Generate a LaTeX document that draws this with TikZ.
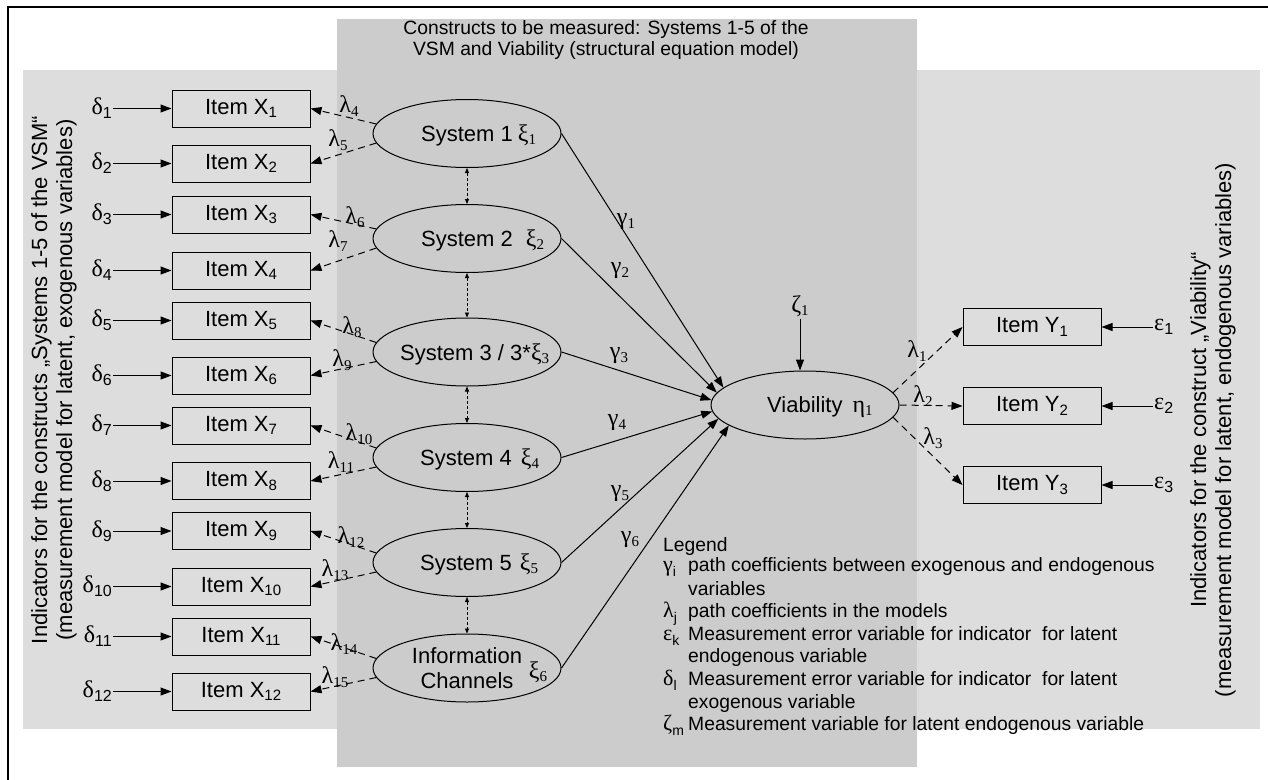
\documentclass[tikz,border=0pt]{standalone}
\usepackage{fontspec}
\setmainfont{Liberation Sans}
\newfontfamily\grk{Liberation Serif}
\usetikzlibrary{arrows.meta,shapes.geometric}
\definecolor{lightg}{RGB}{221,221,221}
\definecolor{darkg}{RGB}{204,204,204}
\newcommand\isub[1]{\raisebox{-0.28ex}{\fontsize{15}{15}\selectfont #1}}
\newcommand\gsub[1]{\raisebox{-0.3ex}{\fontsize{15}{15}\selectfont #1}}
\newcommand\esub[1]{\raisebox{-0.3ex}{\fontsize{16}{16}\selectfont #1}}
\newcommand\lsub[1]{\raisebox{-0.45ex}{\fontsize{14}{14}\selectfont #1}}
\tikzset{
  item/.style={draw, line width=1pt, fill=lightg, minimum width=138pt, minimum height=37pt, inner sep=0pt, font=\fontsize{22}{24}\selectfont},
  lat/.style={draw, ellipse, line width=1pt, fill=darkg, minimum width=188pt, minimum height=68pt, inner sep=0pt},
  lbl/.style={inner sep=0pt, font=\fontsize{22}{25}\selectfont},
  glbl/.style={inner sep=1pt, font=\grk\fontsize{24}{24}\selectfont},
  err/.style={inner sep=1pt, font=\fontsize{24}{24}\selectfont},
  arr/.style={line width=1pt, -{Triangle[length=11pt,width=8pt]}},
  darr/.style={arr, dash pattern=on 7pt off 5pt},
  dbl/.style={line width=0.8pt, dash pattern=on 3pt off 2pt, {Triangle[length=5pt,width=4pt]}-{Triangle[length=5pt,width=4pt]}},
  ttl/.style={align=center, font=\fontsize{19.3}{21}\selectfont},
  side/.style={align=center, font=\fontsize{22}{25}\selectfont},
  leg/.style={anchor=base west, inner sep=0pt, font=\fontsize{19.3}{21}\selectfont},
  legsym/.style={anchor=base west, inner sep=0pt, font=\fontsize{22}{22}\selectfont},
}
\begin{document}
\begin{tikzpicture}[x=1pt,y=-1pt]
\useasboundingbox (0,0) rectangle (1268,779);
% background regions
\fill[lightg] (23,70) rectangle (1260,729);
\fill[darkg] (337,19) rectangle (917,767);
\draw[line width=1.5pt] (8,800) -- (8,7) -- (1290,7);

% title and side texts
\node[ttl] (title) at (606,40.5) {Constructs to be measured: Systems 1-5 of the\\VSM and Viability (structural equation model)};
\node[side, rotate=90] (lefttext) at (54,380) {Indicators for the constructs „Systems 1-5 of the VSM“\\(measurement model for latent, exogenous variables)};
\node[side, rotate=90] (righttext) at (1213,430) {Indicators for the construct „Viability“\\(measurement model for latent, endogenous variables)};

% X items with errors
\foreach \i/\y in {1/108.5,2/163.5,3/214.5,4/270.5,5/320.5,6/375.5,7/425.5,8/481,9/531,10/586.5,11/636.5,12/691.5}{
  \node[item] (x\i) at (241,\y) {Item X\isub{\i}};
  \node[err, anchor=east] (d\i) at (113,\y) {{\grk δ}\esub{\i}};
  \draw[arr] (d\i.east |- x\i.west) -- (x\i.west);
}

% latent exogenous ellipses
\foreach \k/\y in {1/133.5,2/238.5,3/352,4/457.5,5/562.5,6/668}{
  \node[lat] (s\k) at (467,\y) {};
}
\node[lbl, anchor=base west] (s1t) at (421,141.5) {System 1\hspace{5pt}{\grk\fontsize{24}{24}\selectfont ξ\gsub{1}}};
\node[lbl, anchor=base west] (s2t) at (421,246.5) {System 2\hspace{13pt}{\grk\fontsize{24}{24}\selectfont ξ\gsub{2}}};
\node[lbl, anchor=base west] (s3t) at (400,360) {System 3 / 3*{\grk\fontsize{24}{24}\selectfont ξ\gsub{3}}};
\node[lbl, anchor=base west] (s4t) at (420,465.5) {System 4\hspace{9pt}{\grk\fontsize{24}{24}\selectfont ξ\gsub{4}}};
\node[lbl, anchor=base west] (s5t) at (420,570.5) {System 5\hspace{8pt}{\grk\fontsize{24}{24}\selectfont ξ\gsub{5}}};
\node[lbl, align=center] (s6t) at (467,668) {Information\\Channels};
\node[glbl] (s6x) at (538,672) {ξ\gsub{6}};

% correlations between constructs
\draw[dbl] (s1.south) -- (s2.north);
\draw[dbl] (s2.south) -- (s3.north);
\draw[dbl] (s3.south) -- (s4.north);
\draw[dbl] (s4.south) -- (s5.north);
\draw[dbl] (s5.south) -- (s6.north);

% loadings lambda 4..15
\foreach \k/\a/\b in {1/1/2,2/3/4,3/5/6,4/7/8,5/9/10,6/11/12}{
  \draw[darr] (s\k.174) -- (x\a.east);
  \draw[darr] (s\k.186) -- (x\b.east);
}
\node[glbl] (l4) at (349,106) {λ\gsub{4}};
\node[glbl] (l5) at (338,140) {λ\gsub{5}};
\node[glbl] (l6) at (355,217) {λ\gsub{6}};
\node[glbl] (l7) at (338,241) {λ\gsub{7}};
\node[glbl] (l8) at (352,327) {λ\gsub{8}};
\node[glbl] (l9) at (342,360) {λ\gsub{9}};
\node[glbl] (l10) at (359,434) {λ\gsub{10}};
\node[glbl] (l11) at (341,462) {λ\gsub{11}};
\node[glbl] (l12) at (351,537) {λ\gsub{12}};
\node[glbl] (l13) at (335,570) {λ\gsub{13}};
\node[glbl] (l14) at (344,644) {λ\gsub{14}};
\node[glbl] (l15) at (335,677) {λ\gsub{15}};

% endogenous construct
\node[lat] (via) at (805,405) {};
\node[lbl, anchor=base west] (viat) at (767,412) {Viability\hspace{10pt}{\grk\fontsize{24}{24}\selectfont η\gsub{1}}};
\node[glbl, inner sep=2pt] (z1) at (800,306) {ζ\gsub{1}};
\draw[arr] (z1.south) -- (z1.south |- via.north);

% structural paths
\draw[arr] (s1.east) -- (via.168);
\draw[arr] (s2.east) -- (via.172);
\draw[arr] (s3.east) -- (via.177);
\draw[arr] (s4.east) -- (via.184);
\draw[arr] (s5.east) -- (via.189);
\draw[arr] (s6.east) -- (via.195);
\node[glbl] (g1) at (626,222) {γ\gsub{1}};
\node[glbl] (g2) at (620,271) {γ\gsub{2}};
\node[glbl] (g3) at (619,356) {γ\gsub{3}};
\node[glbl] (g4) at (617,423) {γ\gsub{4}};
\node[glbl] (g5) at (620,494) {γ\gsub{5}};
\node[glbl] (g6) at (630,540) {γ\gsub{6}};

% Y items
\foreach \i/\y in {1/327,2/406,3/485}{
  \node[item] (y\i) at (1032,\y) {Item Y\isub{\i}};
  \node[err, anchor=west] (e\i) at (1153,\y) {{\grk ε}\esub{\i}};
  \draw[arr] (e\i.west |- y\i.east) -- (y\i.east);
}
\draw[darr] (via.8) -- (y1.west);
\draw[darr] (via.east) -- (y2.west);
\draw[darr] (via.-8) -- (y3.west);
\node[glbl] (l1) at (917,351) {λ\gsub{1}};
\node[glbl] (l2) at (923,396) {λ\gsub{2}};
\node[glbl] (l3) at (933,438) {λ\gsub{3}};

% legend
\node[leg] (legt) at (663,551) {Legend};
\node[legsym] (lg1) at (663,571) {{\grk γ}\lsub{i}};
\node[leg] (lt1) at (688,571) {path coefficients between exogenous and endogenous};
\node[leg] (lt1b) at (688,595) {variables};
\node[legsym] (lg2) at (663,617) {{\grk λ}\lsub{j}};
\node[leg] (lt2) at (688,617) {path coefficients in the models};
\node[legsym] (lg3) at (663,640) {{\grk ε}\lsub{k}};
\node[leg] (lt3) at (688,640) {Measurement error variable for indicator\ \ for latent};
\node[leg] (lt3b) at (688,662) {endogenous variable};
\node[legsym] (lg4) at (663,685) {{\grk δ}\lsub{l}};
\node[leg] (lt4) at (688,685) {Measurement error variable for indicator\ \ for latent};
\node[leg] (lt4b) at (688,708) {exogenous variable};
\node[legsym] (lg5) at (663,730) {{\grk ζ}\lsub{m}};
\node[leg] (lt5) at (688,730) {Measurement variable for latent endogenous variable};
\end{tikzpicture}
\end{document}
